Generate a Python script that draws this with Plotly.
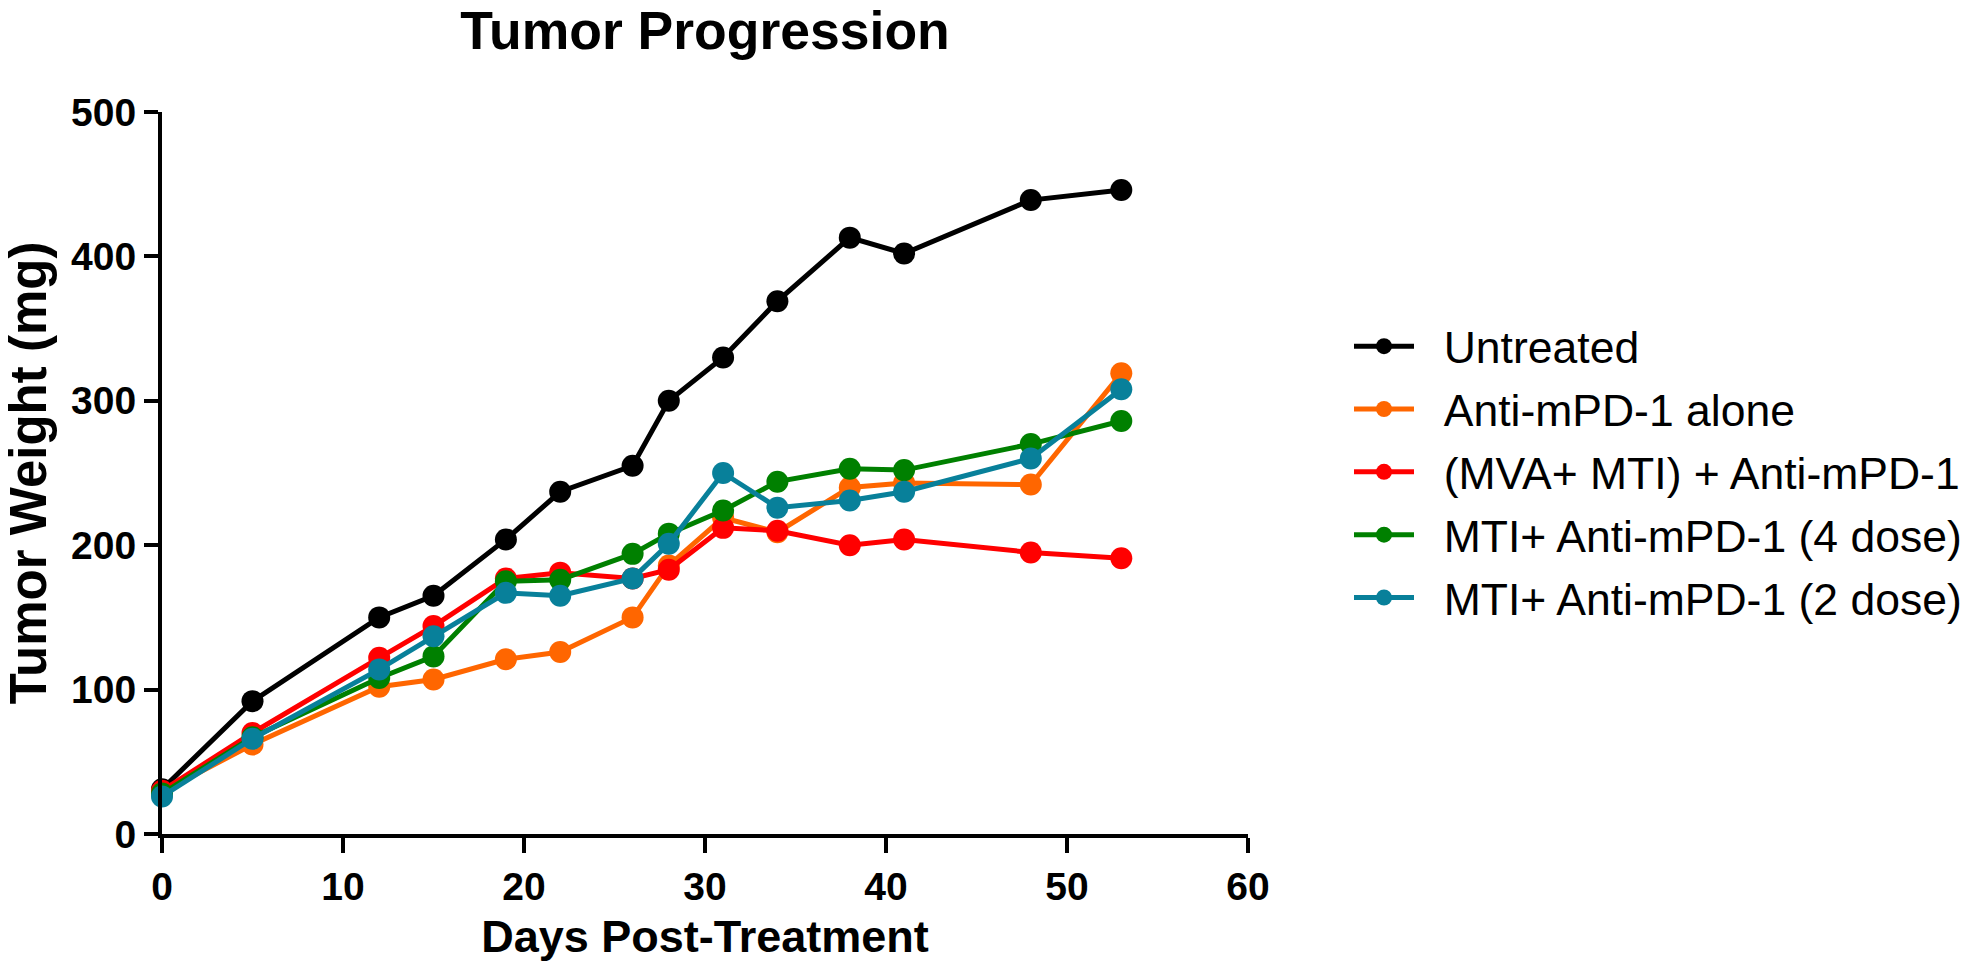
import plotly.graph_objects as go

# ---- data ----
days = [0, 5, 12, 15, 19, 22, 26, 28, 31, 34, 38, 41, 48, 53]

untreated = [31, 92, 150, 165, 204, 237, 255, 300, 330, 369, 413, 402, 439, 446]
anti_pd1_alone = [29, 62, 102, 107, 121, 126, 150, 186, 219, 209, 240, 243, 242, 319]
mva_mti_anti_pd1 = [30, 70, 122, 144, 177, 181, 177, 183, 212, 210, 200, 204, 195, 191]
mti_anti_pd1_4dose = [28, 67, 108, 123, 175, 176, 194, 208, 224, 244, 253, 252, 270, 286]
mti_anti_pd1_2dose = [26, 66, 114, 137, 167, 165, 177, 201, 250, 226, 231, 237, 260, 308]

series_names = [
    "Untreated",
    "Anti-mPD-1 alone",
    "(MVA+ MTI) + Anti-mPD-1",
    "MTI+ Anti-mPD-1 (4 dose)",
    "MTI+ Anti-mPD-1 (2 dose)",
]
series_values = [untreated, anti_pd1_alone, mva_mti_anti_pd1,
                 mti_anti_pd1_4dose, mti_anti_pd1_2dose]
series_colors = ["#000000", "#FF6600", "#FF0000", "#008000", "#08809A"]

x_ticks = [0, 10, 20, 30, 40, 50, 60]
y_ticks = [0, 100, 200, 300, 400, 500]

# ---- figure ----
W, H = 1980, 962
L, R, T, B = 162, 732, 112, 128

fig = go.Figure()
for name, vals, col in zip(series_names, series_values, series_colors):
    fig.add_trace(go.Scatter(
        x=days, y=vals, name="\u00a0\u00a0" + name, mode="lines+markers",
        line=dict(color=col, width=5),
        marker=dict(color=col, size=22),
        cliponaxis=False, legendgroup=name,
    ))

FONT = "Liberation Sans, Arial, Helvetica, sans-serif"

fig.update_layout(
    width=W, height=H,
    margin=dict(l=L, r=R, t=T, b=B, autoexpand=False),
    paper_bgcolor="white", plot_bgcolor="white",
    font=dict(family=FONT, color="black"),
    title=dict(text="Tumor Progression", x=0.5, xref="paper", xanchor="center",
               y=1 - 30 / H, yref="container", yanchor="middle",
               font=dict(size=53.5, weight="bold", color="black")),
    legend=dict(x=(1349 - L) / (W - L - R), y=(834.3 - 311) / (H - T - B),
                xanchor="left", yanchor="top",
                font=dict(size=44.5, color="black"), itemwidth=60,
                tracegroupgap=2, bgcolor="rgba(0,0,0,0)"),
    showlegend=True,
)

fig.update_xaxes(
    range=[0, 60], tickvals=x_ticks, ticktext=[str(v) for v in x_ticks],
    ticks="outside", ticklen=15, tickwidth=4, tickcolor="black",
    showline=True, linewidth=4, linecolor="black",
    showgrid=False, zeroline=False,
    tickfont=dict(size=39, weight="bold", color="black"),
    title=dict(text="Days Post-Treatment",
               font=dict(size=45, weight="bold", color="black"), standoff=20),
)
fig.update_yaxes(
    range=[0, 500], tickvals=y_ticks, ticktext=[str(v) for v in y_ticks],
    ticks="outside", ticklen=14, tickwidth=4, tickcolor="black",
    showline=True, linewidth=4, linecolor="black",
    showgrid=False, zeroline=False,
    tickfont=dict(size=39, weight="bold", color="black"),
    title=dict(text="Tumor Weight (mg)",
               font=dict(size=51, weight="bold", color="black"), standoff=17),
)

fig.write_html(
    "out.html",
    config={"displayModeBar": False},
    post_script="document.body.style.margin='0';document.body.style.overflow='hidden';",
)
